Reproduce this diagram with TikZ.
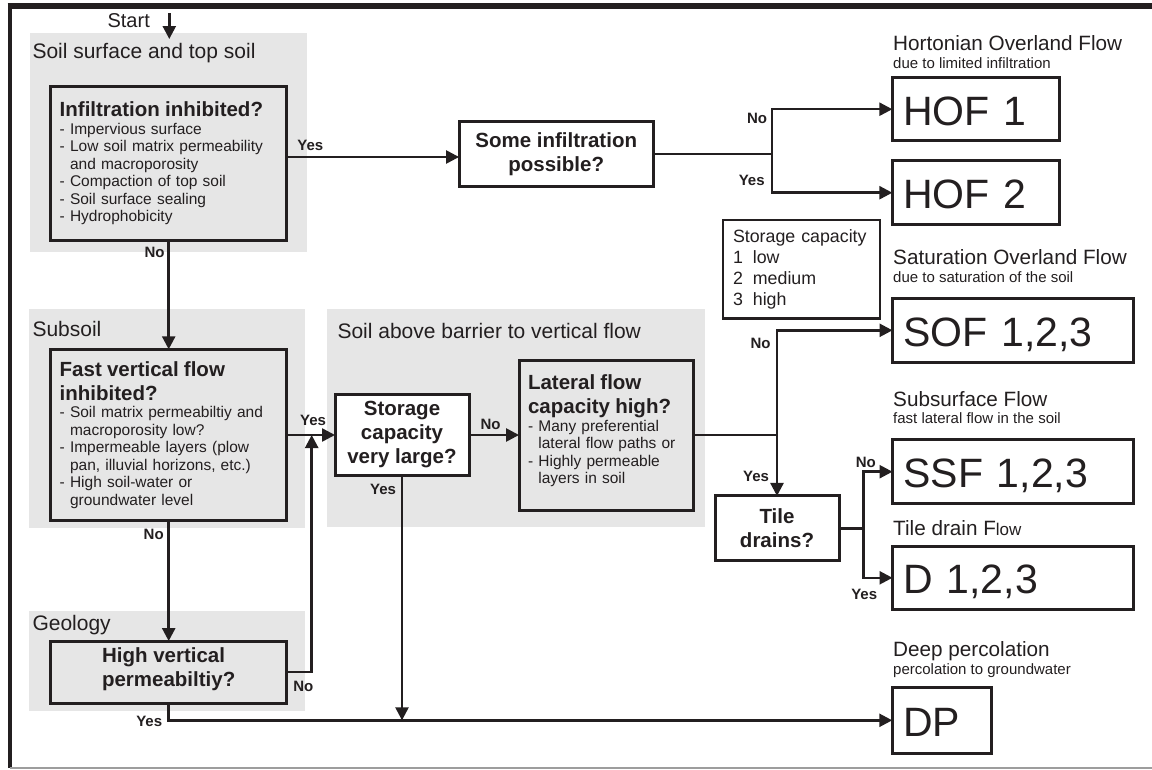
\documentclass[tikz,border=0pt]{standalone}
\usepackage{fontspec}
\setmainfont{Liberation Sans}
\usetikzlibrary{arrows.meta, positioning}

\definecolor{ink}{HTML}{231F20}
\definecolor{zonefill}{HTML}{E6E6E6}
\definecolor{framegray}{HTML}{9D9D9D}

\setlength{\parindent}{0pt}
\newcommand{\questfont}{\fontsize{20.5}{24}\selectfont\bfseries}
\newcommand{\listfont}{\fontsize{15.5}{17.5}\selectfont}
\newcommand{\zonefont}{\fontsize{21}{24}\selectfont}
\newcommand{\flowfont}{\fontsize{20.7}{24}\selectfont}
\newcommand{\notefont}{\fontsize{15}{17}\selectfont}
\newcommand{\answerfont}{\fontsize{15}{17}\selectfont\bfseries}
\newcommand{\codefont}{\fontsize{41}{41}\selectfont}

\begin{document}
\begin{tikzpicture}[x=1pt, y=-1pt]
    \tikzstyle{zone} = [fill=zonefill, draw=none, inner sep=0, outer sep=0, anchor=north west];
    \tikzstyle{zonelabel} = [anchor=base west, inner sep=0, text=ink, font=\zonefont];
    \tikzstyle{question} = [draw=ink, line width=3pt, fill=zonefill, inner xsep=9pt, outer sep=0, text=ink, align=left, font=\listfont];
    \tikzstyle{decision} = [draw=ink, line width=3pt, fill=white, inner ysep=2pt, outer sep=0, text=ink, align=center, font=\questfont];
    \tikzstyle{outcome} = [draw=ink, line width=3pt, fill=white, inner xsep=11pt, outer sep=0, text=ink, align=left, text height=32pt, text depth=0pt, minimum height=63.5pt, font=\codefont];
    \tikzstyle{flowtitle} = [anchor=base west, inner sep=0, text=ink, font=\flowfont];
    \tikzstyle{flownote} = [anchor=base west, inner sep=0, text=ink, font=\notefont];
    \tikzstyle{answer} = [inner sep=0, text=ink, font=\answerfont];
    \tikzstyle{flowline} = [draw=ink, line width=2.5pt];
    \tikzstyle{flowarrow} = [flowline, -{Triangle[length=13pt, width=13pt]}];

    \useasboundingbox (0,0) rectangle (1152,769);
    \fill[white] (0,0) rectangle (1152,769);
    \draw[ink, line width=6pt] (7.5,6.3) -- (1152,6.3);
    \draw[ink, line width=4pt] (9.5,3.3) -- (9.5,768);
    \draw[framegray, line width=2pt] (9.5,767.7) -- (1152,767.7);

    \node[zone, minimum width=276.7pt, minimum height=219pt] (topzone) at (30,32.7) {};
    \node[zone, minimum width=275.7pt, minimum height=219pt] (subzone) at (29.3,309.3) {};
    \node[zone, minimum width=275.7pt, minimum height=100pt] (geozone) at (29.3,611) {};
    \node[zone, minimum width=377.7pt, minimum height=218pt] (barrierzone) at (327.3,309.3) {};

    \node[zonelabel] (topzonelabel) at (32.3,58.5) {Soil surface and top soil};
    \node[zonelabel] (subzonelabel) at (32.3,336) {Subsoil};
    \node[zonelabel] (geozonelabel) at (32.3,630.7) {Geology};
    \node[zonelabel] (barrierzonelabel) at (337.3,338) {Soil above barrier to vertical flow};

    \node[anchor=base, inner sep=0, text=ink, font=\fontsize{20}{20}\selectfont] (start) at (128.7,27) {Start};
    \coordinate (starttop) at (169.3,13);
    \coordinate[below=26pt of starttop] (startend);

    \node[question, minimum width=236pt, minimum height=153.3pt, text width=218pt] (infil) at (168.7,163.35) {{\questfont Infiltration inhibited?\\}
        - Impervious surface\\
        - Low soil matrix permeability\\
        \phantom{- }and macroporosity\\
        - Compaction of top soil\\
        - Soil surface sealing\\
        - Hydrophobicity};
    \node[question, minimum width=236pt, minimum height=171.4pt, text width=218pt] (fast) at (168.7,435) {{\questfont Fast vertical flow\\ inhibited?\\}
        - Soil matrix permeabiltiy and\\
        \phantom{- }macroporosity low?\\
        - Impermeable layers (plow\\
        \phantom{- }pan, illuvial horizons, etc.)\\
        - High soil-water or\\
        \phantom{- }groundwater level};
    \node[question, font=\questfont, minimum width=236pt, minimum height=62.3pt] (geo) at (168.7,672.2) {High vertical\\permeabiltiy?\rule[-10pt]{0pt}{1pt}};

    \node[decision, minimum width=194.3pt, minimum height=65.7pt] (someinf) at (556.2,153.85) {Some infiltration\\possible?};
    \node[decision, minimum width=134pt, minimum height=81.4pt] (storage) at (402,435) {Storage\\capacity\\very large?};
    \node[question, minimum width=174.3pt, minimum height=150pt, text width=156.3pt] (lateral) at (606.2,435) {{\questfont Lateral flow\\ capacity high?\\}
        - Many preferential\\
        \phantom{- }lateral flow paths or\\
        - Highly permeable\\
        \phantom{- }layers in soil\rule[-11pt]{0pt}{1pt}};
    \node[decision, minimum width=124pt, minimum height=64.7pt] (tile) at (777,528.3) {Tile\\drains?};

    \node[draw=ink, line width=2.5pt, fill=white, outer sep=0, inner xsep=10pt, text width=137pt, minimum height=98.7pt, align=left, text=ink, font=\fontsize{17.8}{20.9}\selectfont] (legend) at (801.5,269.35) {Storage capacity\\
        1\hspace{10pt}low\\
        2\hspace{10pt}medium\\
        3\hspace{10pt}high};

    \node[outcome, minimum width=166.7pt, text width=144.7pt] (hofone) at (975.7,109.2) {HOF 1};
    \node[outcome, minimum width=166.7pt, text width=144.7pt, below=20pt of hofone] (hoftwo) {HOF 2};
    \node[outcome, minimum width=240.8pt, text width=218.8pt] (sof) at (1012.9,330.3) {SOF 1,2,3};
    \node[outcome, minimum width=240.8pt, text width=218.8pt] (ssf) at (1012.9,471.7) {SSF 1,2,3};
    \node[outcome, minimum width=240.8pt, text width=218.8pt] (dtile) at (1012.9,577.8) {D 1,2,3};
    \node[outcome, minimum width=99.5pt, text width=77.5pt, minimum height=66pt] (dp) at (942,720.3) {DP};

    \node[flowtitle] (hortitle) at (893,50.7) {Hortonian Overland Flow};
    \node[flownote] (hornote) at (893,68.7) {due to limited infiltration};
    \node[flowtitle] (sattitle) at (893,264) {Saturation Overland Flow};
    \node[flownote] (satnote) at (893,282) {due to saturation of the soil};
    \node[flowtitle] (ssftitle) at (893,406) {Subsurface Flow};
    \node[flownote] (ssfnote) at (893,423) {fast lateral flow in the soil};
    \node[flowtitle] (draintitle) at (893,535.5) {Tile drain F{\fontsize{17}{17}\selectfont low}};
    \node[flowtitle] (dptitle) at (893,656.7) {Deep percolation};
    \node[flownote] (dpnote) at (893,674.7) {percolation to groundwater};

    \coordinate (yesrow) at (0,157);
    \coordinate[right=118.4pt of someinf.east] (hofjoin);
    \coordinate (yesmerge) at (311.7,435);
    \coordinate (latjoin) at (tile.north |- lateral.east);
    \coordinate[right=24.3pt of tile.east] (tilejoin);

    \draw[flowarrow] (starttop) -- (startend);
    \draw[flowarrow] (infil.east |- yesrow) -- (someinf.west |- yesrow);
    \draw[flowline] (someinf.east) -- (hofjoin);
    \draw[flowarrow] (hofjoin) |- (hofone.west);
    \draw[flowarrow] (hofjoin) |- (hoftwo.west);

    \draw[flowarrow] (infil.south) -- (fast.north);
    \draw[flowarrow] (fast.south) -- (geo.north);
    \draw[flowarrow] (fast.east) -- (storage.west);
    \draw[flowarrow] (geo.east) -| (yesmerge);
    \draw[flowarrow] (storage.east) -- (lateral.west);
    \draw[flowarrow] (storage.south) -- (storage.south |- dp.west);
    \draw[flowarrow] (geo.south) |- (dp.west);

    \draw[flowline] (lateral.east) -- (latjoin);
    \draw[flowarrow] (latjoin) |- (sof.west);
    \draw[flowarrow] (latjoin) -- (tile.north);
    \draw[flowline] (tile.east) -- (tilejoin);
    \draw[flowarrow] (tilejoin) |- (ssf.west);
    \draw[flowarrow] (tilejoin) |- (dtile.west);

    \node[answer] (yestop) at (310.3,145) {Yes};
    \node[answer] (nohofone) at (757,118.7) {No};
    \node[answer] (yeshoftwo) at (751.7,180) {Yes};
    \node[answer] (noinfil) at (154.5,252.5) {No};
    \node[answer] (nofast) at (153.7,534.7) {No};
    \node[answer] (yesfast) at (313,420.5) {Yes};
    \node[answer] (nogeo) at (303.3,686.2) {No};
    \node[answer] (yesgeo) at (149.2,721.7) {Yes};
    \node[answer] (nostorage) at (490.5,424.7) {No};
    \node[answer] (yesstorage) at (383,489.7) {Yes};
    \node[answer] (nosof) at (760.5,343.3) {No};
    \node[answer] (yestile) at (756,476.3) {Yes};
    \node[answer] (nossf) at (865.8,462.3) {No};
    \node[answer] (yesdrain) at (864.2,594.2) {Yes};
\end{tikzpicture}
\end{document}
